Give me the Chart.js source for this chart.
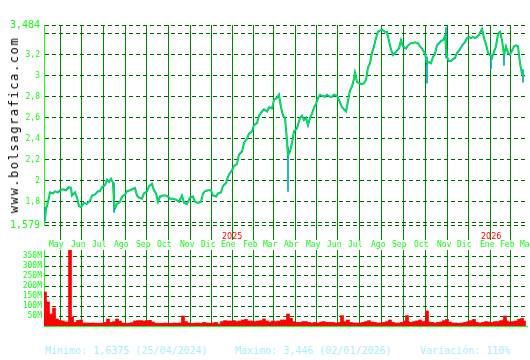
<!DOCTYPE html>
<html>
<head>
<meta charset="utf-8">
<script src="https://cdn.jsdelivr.net/npm/chart.js@4.4.1/dist/chart.umd.min.js"></script>
<style>
    body { margin: 0; background: #fff; width: 530px; height: 360px; position: relative; overflow: hidden; }
    canvas { position: absolute; left: 0; }
    #priceChart { top: 0; }
    #volumeChart { top: 245px; }
    #watermark {
        position: absolute; left: 14px; top: 125px;
        transform: translate(-50%, -50%) rotate(-90deg);
        white-space: nowrap; font: 12px "DejaVu Sans Mono"; letter-spacing: 1.6px; color: #000;
    }
    .foot { position: absolute; top: 346px; font: 10px/10px "DejaVu Sans Mono"; color: #a8eeff; white-space: nowrap; }
</style>
</head>
<body>
<canvas id="priceChart" width="530" height="252"></canvas>
<canvas id="volumeChart" width="530" height="83"></canvas>
<div id="watermark">www.bolsagrafica.com</div>
<div class="foot" style="left:45px">Minimo: 1,6375 (25/04/2024)</div>
<div class="foot" style="left:235px">Maximo: 3,446 (02/01/2026)</div>
<div class="foot" style="left:420px">Variación: 110%</div>

<script>
// trading day number (0 = 25/04/2024) and closing price
const dayIdx = [0, 1, 2, 4, 5, 8, 10, 13, 15, 18, 21, 24, 26, 27, 29, 30, 32, 34, 36, 39, 42, 45, 47, 50, 53, 55, 57, 60, 62, 64, 66, 68, 69, 70, 72, 75, 77, 80, 82, 85, 87, 90, 92, 94, 97, 99, 102, 104, 107, 109, 111, 113, 115, 118, 121, 123, 125, 128, 131, 134, 137, 139, 142, 145, 148, 150, 153, 156, 158, 160, 163, 166, 168, 171, 173, 176, 178, 181, 184, 187, 189, 192, 194, 197, 199, 202, 204, 207, 209, 212, 214, 217, 219, 222, 224, 227, 229, 232, 234, 236, 238, 240, 242, 243, 245, 247, 249, 252, 255, 257, 259, 261, 263, 265, 267, 269, 271, 273, 275, 277, 280, 282, 285, 287, 289, 292, 294, 297, 299, 301, 303, 305, 307, 309, 310, 312, 314, 317, 319, 321, 323, 325, 327, 329, 331, 333, 335, 337, 340, 342, 344, 346, 348, 350, 352, 354, 356, 358, 361, 363, 366, 368, 370, 373, 375, 377, 380, 382, 384, 386, 388, 390, 392, 394, 396, 398, 400, 402, 404, 406, 408, 410, 412, 414, 416, 418, 420, 422, 424, 426, 428, 430, 432, 434, 436, 437, 439, 441, 443, 445, 447, 449, 451, 453, 455, 457, 459, 461, 463, 465, 467, 469, 471, 473, 475, 477, 479];
const closes = [1.64, 1.73, 1.76, 1.84, 1.89, 1.88, 1.90, 1.89, 1.91, 1.92, 1.91, 1.94, 1.93, 1.86, 1.88, 1.89, 1.84, 1.76, 1.75, 1.79, 1.78, 1.81, 1.86, 1.87, 1.90, 1.90, 1.94, 1.96, 2.01, 1.99, 2.02, 1.98, 1.80, 1.74, 1.78, 1.80, 1.85, 1.87, 1.90, 1.91, 1.92, 1.93, 1.86, 1.84, 1.83, 1.88, 1.90, 1.95, 1.97, 1.91, 1.88, 1.80, 1.85, 1.86, 1.86, 1.85, 1.83, 1.83, 1.82, 1.80, 1.86, 1.79, 1.78, 1.84, 1.85, 1.80, 1.79, 1.80, 1.88, 1.90, 1.91, 1.91, 1.86, 1.85, 1.88, 1.89, 1.95, 1.98, 2.06, 2.10, 2.14, 2.16, 2.25, 2.28, 2.36, 2.40, 2.45, 2.47, 2.53, 2.55, 2.62, 2.66, 2.68, 2.66, 2.70, 2.69, 2.77, 2.79, 2.82, 2.70, 2.62, 2.60, 2.38, 2.24, 2.28, 2.36, 2.47, 2.50, 2.60, 2.62, 2.58, 2.60, 2.53, 2.60, 2.64, 2.70, 2.73, 2.79, 2.82, 2.81, 2.80, 2.82, 2.80, 2.80, 2.82, 2.81, 2.77, 2.70, 2.68, 2.66, 2.76, 2.86, 2.90, 2.97, 3.03, 2.94, 2.93, 2.92, 2.93, 2.96, 3.08, 3.12, 3.22, 3.28, 3.36, 3.42, 3.43, 3.44, 3.42, 3.42, 3.33, 3.25, 3.20, 3.22, 3.24, 3.26, 3.34, 3.28, 3.26, 3.29, 3.31, 3.31, 3.32, 3.31, 3.28, 3.26, 3.21, 3.12, 3.13, 3.12, 3.18, 3.21, 3.29, 3.31, 3.33, 3.34, 3.38, 3.18, 3.14, 3.14, 3.16, 3.17, 3.22, 3.24, 3.27, 3.30, 3.32, 3.36, 3.37, 3.36, 3.37, 3.36, 3.37, 3.39, 3.43, 3.446, 3.36, 3.30, 3.22, 3.20, 3.17, 3.23, 3.28, 3.40, 3.42, 3.34, 3.20, 3.28, 3.22, 3.20, 3.24, 3.28, 3.29, 3.28, 3.12, 3.02, 2.99];

// intraday ranges that stick out of the close line
const wickIdx = [0, 69, 243, 382, 401, 446, 459, 478];
const wickLow = [1.62, 1.70, 1.90, 2.93, 3.17, 3.07, 3.10, 2.94];
const wickHigh = [1.75, 1.98, 2.32, 3.18, 3.46, 3.20, 3.24, 3.06];

// volume in millions
const volIdx = [0, 3, 6, 9, 12, 15, 18, 21, 24, 25, 27, 30, 33, 36, 39, 42, 45, 48, 51, 54, 57, 60, 63, 66, 69, 72, 75, 78, 81, 84, 87, 90, 93, 96, 99, 102, 105, 108, 111, 114, 117, 120, 123, 126, 129, 132, 135, 138, 141, 144, 147, 150, 153, 156, 159, 162, 165, 168, 171, 174, 177, 180, 183, 186, 189, 192, 195, 198, 201, 204, 207, 210, 213, 216, 219, 222, 225, 228, 231, 234, 237, 240, 243, 246, 249, 252, 255, 258, 261, 264, 267, 270, 273, 276, 279, 282, 285, 288, 291, 294, 297, 300, 303, 306, 309, 312, 315, 318, 321, 324, 327, 330, 333, 336, 339, 342, 345, 348, 351, 354, 357, 360, 362, 363, 366, 369, 372, 375, 378, 381, 382, 384, 387, 390, 393, 396, 399, 402, 405, 408, 411, 414, 417, 420, 423, 426, 429, 432, 435, 438, 441, 444, 447, 450, 453, 456, 459, 460, 462, 465, 468, 471, 474, 477, 479];
const volume = [170, 120, 60, 90, 35, 28, 25, 20, 18, 380, 45, 18, 28, 30, 15, 15, 14, 15, 14, 13, 15, 18, 35, 18, 22, 35, 25, 15, 13, 14, 17, 25, 27, 27, 25, 27, 28, 20, 14, 13, 13, 15, 14, 13, 15, 14, 15, 50, 22, 15, 13, 14, 15, 13, 18, 15, 14, 15, 18, 10, 22, 27, 25, 25, 27, 22, 25, 30, 33, 25, 25, 22, 25, 27, 35, 25, 20, 25, 22, 25, 30, 30, 60, 38, 22, 18, 18, 22, 22, 18, 15, 18, 15, 20, 22, 18, 18, 18, 15, 18, 52, 22, 30, 18, 15, 15, 15, 18, 22, 27, 20, 18, 15, 15, 18, 22, 30, 18, 15, 15, 18, 25, 52, 22, 18, 22, 25, 30, 22, 25, 75, 20, 18, 15, 18, 20, 27, 33, 20, 15, 15, 13, 15, 18, 22, 27, 33, 18, 15, 18, 22, 20, 18, 22, 22, 27, 30, 50, 25, 20, 22, 25, 33, 38, 25];

// month starts (trading day number) and their labels
const monthIdx = [4, 26, 47, 69, 91, 112, 135, 156, 176, 198, 218, 239, 261, 282, 303, 326, 347, 369, 392, 412, 435, 455, 475];
const monthLabels = ['May', 'Jun', 'Jul', 'Ago', 'Sep', 'Oct', 'Nov', 'Dic', 'Ene', 'Feb', 'Mar', 'Abr', 'May', 'Jun', 'Jul', 'Ago', 'Sep', 'Oct', 'Nov', 'Dic', 'Ene', 'Feb', 'Mar'];
const yearIdx = [176, 435];
const yearLabels = ['2025', '2026'];

const priceTicks = [1.579, 1.6, 1.8, 2.0, 2.2, 2.4, 2.6, 2.8, 3.0, 3.2, 3.4, 3.484];
const priceLabels = ['1,579', '', '1,8', '2', '2,2', '2,4', '2,6', '2,8', '3', '3,2', '', '3,484'];
const volTicks = [50, 100, 150, 200, 250, 300, 350];
const volLabels = ['50M', '100M', '150M', '200M', '250M', '300M', '350M'];

const LABEL_GREEN = '#11ff11';
const MONO = 'DejaVu Sans Mono';

// red year markers above the january labels
const yearLabelPlugin = {
    id: 'yearLabels',
    afterDraw(chart) {
        const { ctx, chartArea, scales } = chart;
        ctx.save();
        ctx.fillStyle = '#ff0000';
        ctx.font = '8px "DejaVu Sans"';
        ctx.textBaseline = 'alphabetic';
        yearIdx.forEach((v, i) => {
            ctx.fillText(yearLabels[i], scales.x.getPixelForValue(v) + 1, chartArea.bottom + 14);
        });
        ctx.restore();
    }
};

function monthAxis(showLabels, height) {
    return {
        type: 'linear', min: -1, max: 482, offset: false,
        afterBuildTicks: s => { s.ticks = monthIdx.map(v => ({ value: v })); },
        afterFit: s => { s.height = height; s.paddingLeft = 0; s.paddingRight = 0; },
        grid: { color: '#008800', lineWidth: 1, drawTicks: showLabels, tickLength: 15 },
        border: showLabels ? { display: false } : { display: true, color: LABEL_GREEN, width: 1 },
        ticks: {
            display: showLabels, align: 'start', autoSkip: false, maxRotation: 0, padding: 0,
            color: LABEL_GREEN, font: { family: MONO, size: 8 },
            callback: (v, i) => monthLabels[i]
        }
    };
}

new Chart(document.getElementById('priceChart'), {
    type: 'line',
    data: {
        datasets: [{
            label: 'close',
            data: dayIdx.map((d, i) => ({ x: d, y: closes[i] })),
            borderColor: '#00ff00', borderWidth: 1, pointRadius: 0, tension: 0, order: 0
        }, {
            type: 'bar',
            label: 'range',
            data: wickIdx.map((d, i) => ({ x: d, y: [wickLow[i], wickHigh[i]] })),
            backgroundColor: '#00a8b8', barThickness: 1, order: 1
        }, {
            label: 'band',
            data: dayIdx.map((d, i) => ({ x: d, y: closes[i] })),
            borderColor: '#00a8b8', borderWidth: 2, pointRadius: 0, tension: 0, order: 2
        }]
    },
    options: {
        responsive: false, animation: false, events: [],
        layout: { padding: { top: 25, right: 3, left: 0, bottom: 0 } },
        plugins: { legend: { display: false }, tooltip: { enabled: false } },
        scales: {
            x: monthAxis(true, 27),
            y: {
                min: 1.579, max: 3.484,
                afterBuildTicks: s => { s.ticks = priceTicks.map(v => ({ value: v })); },
                afterFit: s => { s.width = 44; s.paddingTop = 0; s.paddingBottom = 0; },
                grid: { color: '#006600', drawTicks: false },
                border: { display: true, color: LABEL_GREEN, width: 1, dash: [4, 3] },
                ticks: {
                    padding: 4, autoSkip: false, color: LABEL_GREEN,
                    font: ctx => ({ family: MONO, size: (ctx.index === 0 || ctx.index === priceTicks.length - 1) ? 10 : 8 }),
                    callback: (v, i) => priceLabels[i]
                }
            }
        }
    },
    plugins: [yearLabelPlugin]
});

new Chart(document.getElementById('volumeChart'), {
    type: 'bar',
    data: {
        datasets: [{
            label: 'volume',
            data: volIdx.map((d, i) => ({ x: d, y: volume[i] })),
            backgroundColor: '#ff0000', borderWidth: 0, barThickness: 3
        }]
    },
    options: {
        responsive: false, animation: false, events: [],
        layout: { padding: { top: 5, right: 3, left: 0, bottom: 0 } },
        plugins: { legend: { display: false }, tooltip: { enabled: false } },
        scales: {
            x: monthAxis(false, 2),
            y: {
                min: 0, max: 380,
                afterBuildTicks: s => { s.ticks = volTicks.map(v => ({ value: v })); },
                afterFit: s => { s.width = 44; s.paddingTop = 0; s.paddingBottom = 0; },
                grid: { color: '#006600', drawTicks: false },
                border: { display: true, color: LABEL_GREEN, width: 1, dash: [4, 3] },
                ticks: {
                    padding: 2, autoSkip: false, color: LABEL_GREEN,
                    font: { family: MONO, size: 8 },
                    callback: (v, i) => volLabels[i]
                }
            }
        }
    }
});
</script>
</body>
</html>
